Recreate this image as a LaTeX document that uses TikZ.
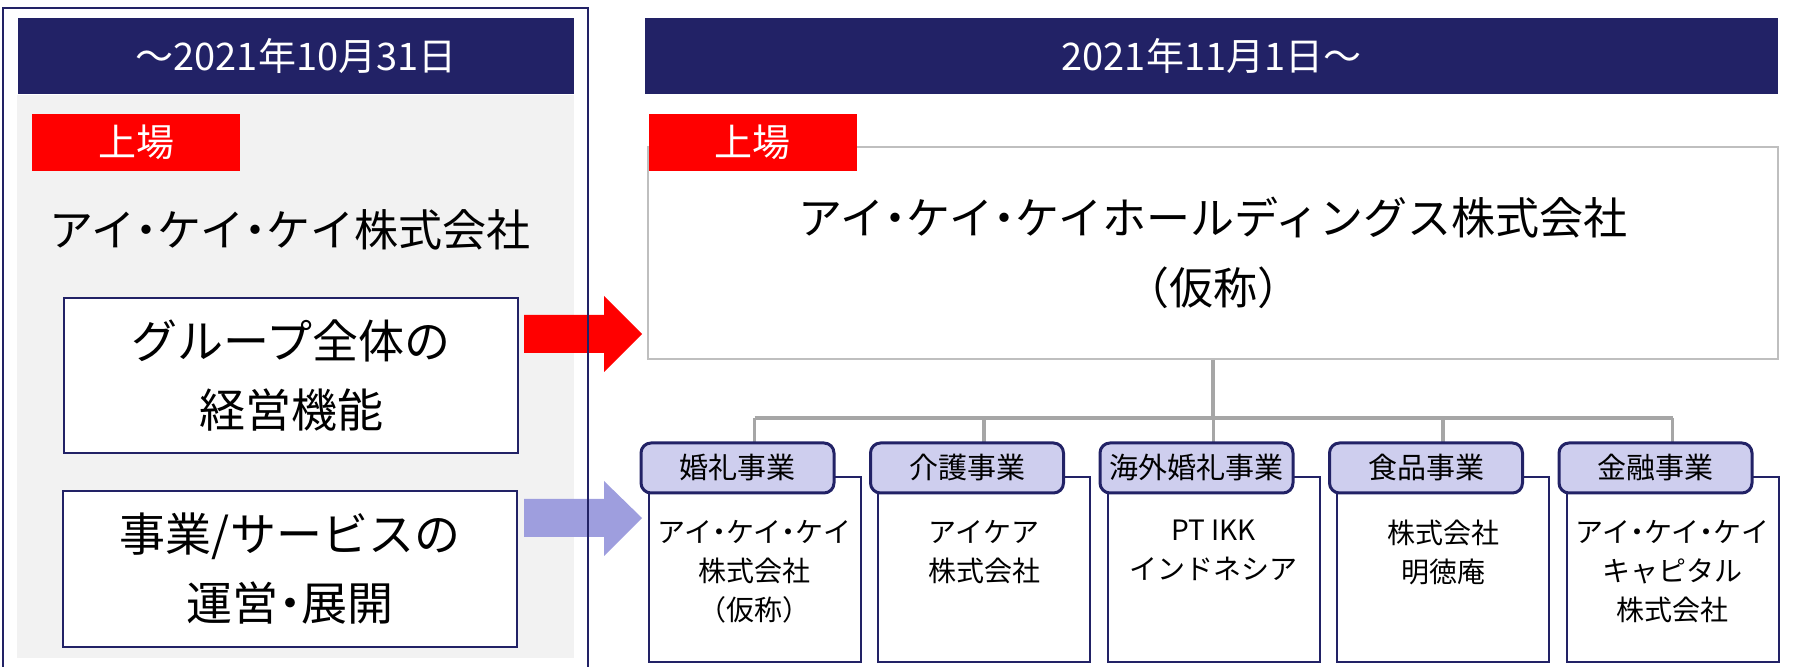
\documentclass[tikz,border=0pt]{standalone}
\usepackage{fontspec}
\setmainfont{Noto Sans CJK JP}
\usepackage{tikz}
\usetikzlibrary{positioning}

\definecolor{navy}{RGB}{34,34,102}
\definecolor{greybg}{RGB}{242,242,242}
\definecolor{tablav}{RGB}{206,206,238}
\definecolor{arrowlav}{RGB}{158,158,222}
\definecolor{linegrey}{RGB}{166,166,166}
\definecolor{boxgrey}{RGB}{191,191,191}

\newcommand{\mdot}{\kern-0.25em・\kern-0.25em}

\tikzset{
	headbar/.style={fill=navy, text=white, minimum width=278pt, minimum height=38pt, inner sep=0pt, font=\fontsize{19}{23}\selectfont},
	listtag/.style={fill=red, text=white, minimum width=104pt, minimum height=28.5pt, inner sep=0pt, font=\fontsize{19}{23}\selectfont},
	funcbox/.style={draw=navy, line width=1pt, fill=white, minimum width=227pt, minimum height=77.5pt, align=center, font=\fontsize{23}{34.5}\selectfont},
	holdbox/.style={draw=boxgrey, line width=1pt, fill=white, minimum width=565pt, minimum height=106pt, align=center, font=\fontsize{22}{35}\selectfont},
	compbox/.style={draw=navy, line width=1pt, fill=white, minimum width=106pt, minimum height=92.5pt},
	segtab/.style={draw=navy, line width=1.5pt, fill=tablav, rounded corners=5pt, minimum width=96.5pt, minimum height=25pt, inner sep=0pt, font=\fontsize{14.5}{17}\selectfont},
	comptext/.style={anchor=north, inner sep=0pt, align=center, font=\fontsize{14}{19.5}\selectfont},
	conn/.style={draw=linegrey, line width=1.75pt}
}

\begin{document}
\begin{tikzpicture}[x=0.5pt, y=-0.5pt]
			\useasboundingbox (0,0) rectangle (1793,667);
			
			\fill[greybg] (17,95) rectangle (574,658);
			
			\fill[red] (524,315) -- (604,315) -- (604,296) -- (642,334) -- (604,372) -- (604,353) -- (524,353) -- cycle;
			\fill[arrowlav] (524,499) -- (604,499) -- (604,481) -- (642,518) -- (604,556) -- (604,537) -- (524,537) -- cycle;
			
			\draw[navy, line width=1.25pt] (3,667) -- (3,8) -- (588,8) -- (588,667);
			
			\node[headbar] (hdL) at (296,56) {～2021年10月31日};
			\node[listtag] (tagL) at (136,142.5) {上場};
			\node[font=\fontsize{22}{26}\selectfont] (ikk) at (290,230) {アイ\mdot{}ケイ\mdot{}ケイ株式会社};
			\node[funcbox] (mgmt) at (291,375.5) {グループ全体の\\経営機能};
			\node[funcbox] (ops) at (290,569) {事業/サービスの\\運営\mdot{}展開};
			
			\node[headbar, minimum width=566.5pt] (hdR) at (1211.5,56) {2021年11月1日～};
			\node[holdbox] (hold) at (1213,253) {アイ\mdot{}ケイ\mdot{}ケイホールディングス株式会社\\（仮称）};
			\node[listtag] (tagR) at (752.5,142.5) {上場};
			
			\coordinate (bus) at (1213,418);
			
			\foreach \i/\seg/\name in {1/婚礼事業/{アイ\mdot{}ケイ\mdot{}ケイ\\株式会社\\（仮称）}, 2/介護事業/{アイケア\\株式会社}, 3/海外婚礼事業/{PT IKK\\インドネシア}, 4/食品事業/{株式会社\\明徳庵}, 5/金融事業/{アイ\mdot{}ケイ\mdot{}ケイ\\キャピタル\\株式会社}}
			{
				\pgfmathsetmacro{\cx}{754.5+229.5*(\i-1)}
				\node[compbox] (co\i) at (\cx,569.5) {};
				\node[comptext] (txt\i) at (\cx,520) {\name};
				\coordinate (tabpos\i) at ({\cx-17},468);
			}
			
			\draw[conn] (hold.south) -- (hold.south |- bus);
			\draw[conn] (co1.north |- bus) -- (co5.north |- bus);
			\foreach \i in {1,...,5}
			{
				\draw[conn] (co\i.north |- bus) -- (co\i.north |- 0,443);
			}
			
			\foreach \i/\seg in {1/婚礼事業, 2/介護事業, 3/海外婚礼事業, 4/食品事業, 5/金融事業}
			{
				\node[segtab] (tab\i) at (tabpos\i) {\seg};
			}
		\end{tikzpicture}
\end{document}
